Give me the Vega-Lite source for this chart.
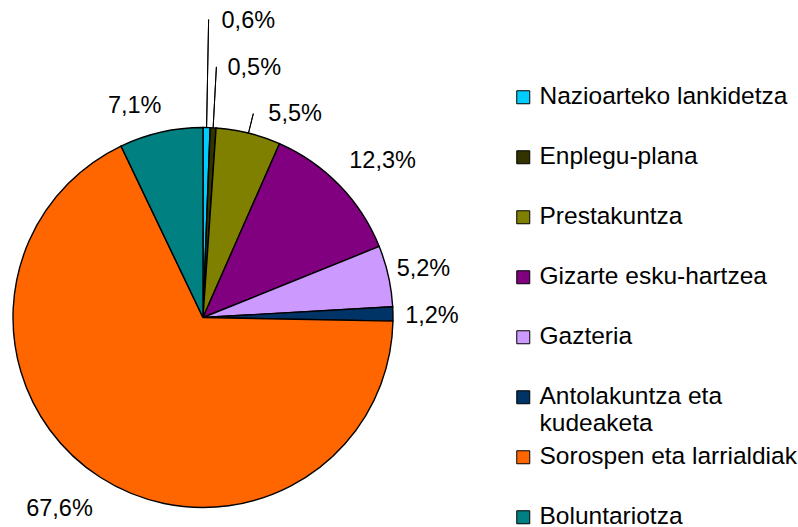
{
  "$schema": "https://vega.github.io/schema/vega-lite/v6.json",
  "width": 406,
  "height": 527,
  "padding": {"left": 0, "top": 0, "right": 392, "bottom": 0},
  "autosize": {"type": "none"},
  "background": "white",
  "config": {"view": {"stroke": null}, "font": "Liberation Sans"},
  "data": {
    "values": [
      {"cat": "Nazioarteko lankidetza", "pct": 0.6, "label": "0,6%", "ord": 1},
      {"cat": "Enplegu-plana", "pct": 0.5, "label": "0,5%", "ord": 2},
      {"cat": "Prestakuntza", "pct": 5.5, "label": "5,5%", "ord": 3},
      {"cat": "Gizarte esku-hartzea", "pct": 12.3, "label": "12,3%", "ord": 4},
      {"cat": "Gazteria", "pct": 5.2, "label": "5,2%", "ord": 5},
      {"cat": "Antolakuntza eta kudeaketa", "pct": 1.2, "label": "1,2%", "ord": 6},
      {"cat": "Sorospen eta larrialdiak", "pct": 67.6, "label": "67,6%", "ord": 7},
      {"cat": "Boluntariotza", "pct": 7.1, "label": "7,1%", "ord": 8}
    ]
  },
  "encoding": {
    "theta": {"field": "pct", "type": "quantitative", "stack": true},
    "order": {"field": "ord", "type": "quantitative"}
  },
  "layer": [
    {
      "mark": {"type": "arc", "outerRadius": 190, "stroke": "black", "strokeWidth": 1.4, "yOffset": 54},
      "encoding": {
        "color": {
          "field": "cat",
          "type": "nominal",
          "sort": null,
          "scale": {
            "domain": ["Nazioarteko lankidetza", "Enplegu-plana", "Prestakuntza", "Gizarte esku-hartzea", "Gazteria", "Antolakuntza eta kudeaketa", "Sorospen eta larrialdiak", "Boluntariotza"],
            "range": ["#00CCFF", "#333300", "#808000", "#800080", "#CC99FF", "#003366", "#FF6600", "#008080"]
          },
          "legend": {
            "title": null,
            "orient": "none",
            "legendX": 511,
            "legendY": 85,
            "padding": 0,
            "columns": 1,
            "gridAlign": "all",
            "symbolType": "square",
            "symbolSize": 169,
            "symbolStrokeColor": "black",
            "symbolStrokeWidth": 1,
            "symbolOpacity": 1,
            "labelFont": "Liberation Sans",
            "labelFontSize": 24.5,
            "labelColor": "black",
            "labelLimit": 400,
            "labelOffset": 4,
            "rowPadding": 8,
            "labelExpr": "datum.label == 'Antolakuntza eta kudeaketa' ? ['Antolakuntza eta', 'kudeaketa'] : datum.label"
          }
        }
      }
    },
    {
      "mark": {"type": "arc", "innerRadius": 190, "outerRadius": 298, "padAngle": 3, "fillOpacity": 0, "stroke": "black", "strokeWidth": 1, "yOffset": 54},
      "encoding": {
        "strokeOpacity": {"condition": {"test": "datum.ord == 1", "value": 1}, "value": 0}
      }
    },
    {
      "mark": {"type": "arc", "innerRadius": 190, "outerRadius": 251, "padAngle": 3, "fillOpacity": 0, "stroke": "black", "strokeWidth": 1, "yOffset": 54},
      "encoding": {
        "strokeOpacity": {"condition": {"test": "datum.ord == 2", "value": 1}, "value": 0}
      }
    },
    {
      "mark": {"type": "arc", "innerRadius": 190, "outerRadius": 210, "padAngle": 3, "fillOpacity": 0, "stroke": "black", "strokeWidth": 1, "yOffset": 54},
      "encoding": {
        "strokeOpacity": {"condition": {"test": "datum.ord == 3", "value": 1}, "value": 0}
      }
    },
    {
      "mark": {"type": "text", "radius": 232, "fontSize": 23.5, "font": "Liberation Sans", "color": "black", "align": "center", "baseline": "middle", "yOffset": 54, "dx": 13, "dy": 5},
      "encoding": {
        "text": {"condition": {"test": "datum.ord == 4", "field": "label"}, "value": ""}
      }
    },
    {
      "mark": {"type": "text", "radius": 232, "fontSize": 23.5, "font": "Liberation Sans", "color": "black", "align": "center", "baseline": "middle", "yOffset": 54, "dx": -6, "dy": 2},
      "encoding": {
        "text": {"condition": {"test": "datum.ord == 5", "field": "label"}, "value": ""}
      }
    },
    {
      "mark": {"type": "text", "radius": 232, "fontSize": 23.5, "font": "Liberation Sans", "color": "black", "align": "center", "baseline": "middle", "yOffset": 54, "dx": -3, "dy": 3},
      "encoding": {
        "text": {"condition": {"test": "datum.ord == 6", "field": "label"}, "value": ""}
      }
    },
    {
      "mark": {"type": "text", "radius": 232, "fontSize": 23.5, "font": "Liberation Sans", "color": "black", "align": "center", "baseline": "middle", "yOffset": 54, "dx": -18, "dy": -4},
      "encoding": {
        "text": {"condition": {"test": "datum.ord == 7", "field": "label"}, "value": ""}
      }
    },
    {
      "mark": {"type": "text", "radius": 232, "fontSize": 23.5, "font": "Liberation Sans", "color": "black", "align": "center", "baseline": "middle", "yOffset": 54, "dx": -17, "dy": 15},
      "encoding": {
        "text": {"condition": {"test": "datum.ord == 8", "field": "label"}, "value": ""}
      }
    },
    {
      "mark": {"type": "text", "radius": 230, "fontSize": 23.5, "font": "Liberation Sans", "color": "black", "align": "center", "baseline": "middle", "yOffset": 54, "dx": 41, "dy": -67},
      "encoding": {
        "text": {"condition": {"test": "datum.ord == 1", "field": "label"}, "value": ""}
      }
    },
    {
      "mark": {"type": "text", "radius": 230, "fontSize": 23.5, "font": "Liberation Sans", "color": "black", "align": "center", "baseline": "middle", "yOffset": 54, "dx": 39, "dy": -20},
      "encoding": {
        "text": {"condition": {"test": "datum.ord == 2", "field": "label"}, "value": ""}
      }
    },
    {
      "mark": {"type": "text", "radius": 230, "fontSize": 23.5, "font": "Liberation Sans", "color": "black", "align": "center", "baseline": "middle", "yOffset": 54, "dx": 37, "dy": 20},
      "encoding": {
        "text": {"condition": {"test": "datum.ord == 3", "field": "label"}, "value": ""}
      }
    }
  ]
}
